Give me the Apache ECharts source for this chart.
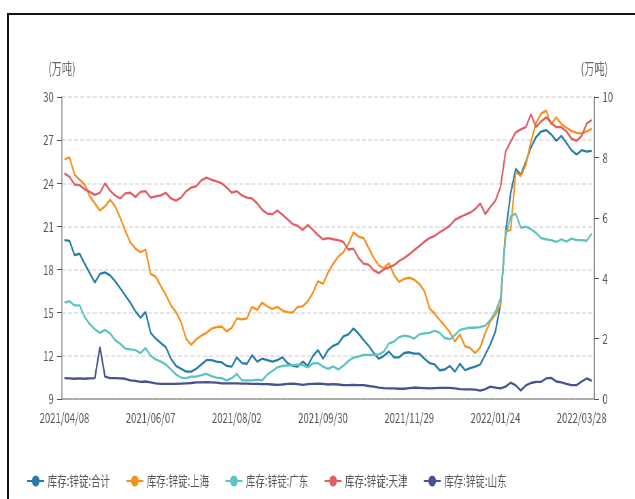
<!DOCTYPE html>
<html>
<head>
<meta charset="utf-8">
<script src="https://cdn.jsdelivr.net/npm/echarts@6/dist/echarts.min.js"></script>
<style>
    html, body { margin: 0; padding: 0; background: #fff; overflow: hidden; }
    #frame { position: absolute; left: 7px; top: 13px; width: 700px; height: 600px; border-top: 2px solid #111; border-left: 2px solid #111; }
    /* the reference is squeezed horizontally, so draw wide and scale down */
    #chart { position: absolute; left: 0; top: 0; width: 934px; height: 499px; transform: scaleX(0.68); transform-origin: 0 0; }
</style>
</head>
<body>
<div id="frame"></div>
<div id="chart"></div>
<script>
const dates = [
    '2021/04/08', '2021/04/12', '2021/04/15', '2021/04/19', '2021/04/22', '2021/04/26', '2021/04/29', '2021/05/06', '2021/05/08', '2021/05/10',
    '2021/05/13', '2021/05/17', '2021/05/20', '2021/05/24', '2021/05/27', '2021/05/31', '2021/06/03', '2021/06/07', '2021/06/10', '2021/06/11',
    '2021/06/15', '2021/06/17', '2021/06/21', '2021/06/24', '2021/06/28', '2021/07/01', '2021/07/05', '2021/07/08', '2021/07/12', '2021/07/15',
    '2021/07/19', '2021/07/22', '2021/07/26', '2021/07/29', '2021/08/02', '2021/08/05', '2021/08/09', '2021/08/12', '2021/08/16', '2021/08/19',
    '2021/08/23', '2021/08/26', '2021/08/30', '2021/09/02', '2021/09/06', '2021/09/09', '2021/09/13', '2021/09/16', '2021/09/18', '2021/09/23',
    '2021/09/27', '2021/09/30', '2021/10/08', '2021/10/09', '2021/10/11', '2021/10/14', '2021/10/18', '2021/10/21', '2021/10/25', '2021/10/28',
    '2021/11/01', '2021/11/04', '2021/11/08', '2021/11/11', '2021/11/15', '2021/11/18', '2021/11/22', '2021/11/25', '2021/11/29', '2021/12/02',
    '2021/12/06', '2021/12/09', '2021/12/13', '2021/12/16', '2021/12/20', '2021/12/23', '2021/12/27', '2021/12/30', '2022/01/04', '2022/01/06',
    '2022/01/10', '2022/01/13', '2022/01/17', '2022/01/20', '2022/01/21', '2022/01/24', '2022/01/27', '2022/02/07', '2022/02/08', '2022/02/10',
    '2022/02/14', '2022/02/17', '2022/02/21', '2022/02/24', '2022/02/28', '2022/03/03', '2022/03/07', '2022/03/10', '2022/03/14', '2022/03/17',
    '2022/03/21', '2022/03/24', '2022/03/28', '2022/03/31', '2022/04/06'
]

// 合计 (left axis, 万吨)
const totalStock = [
    20.05, 20.0, 19.0, 19.1, 18.4, 17.75, 17.1, 17.7, 17.8, 17.6,
    17.2, 16.7, 16.2, 15.7, 15.1, 14.65, 15.05, 13.6, 13.2, 12.9,
    12.6, 11.8, 11.3, 11.1, 10.9, 10.9, 11.1, 11.4, 11.7, 11.7,
    11.6, 11.55, 11.3, 11.25, 11.9, 11.5, 11.45, 12.05, 11.6, 11.8,
    11.7, 11.6, 11.7, 11.9, 11.5, 11.3, 11.25, 11.6, 11.3, 12.0,
    12.4, 11.8, 12.4, 12.7, 12.85, 13.35, 13.5, 13.9, 13.55, 13.1,
    12.7, 12.2, 11.8, 12.0, 12.3, 11.9, 11.9, 12.2, 12.25, 12.15,
    12.15, 11.8, 11.5, 11.4, 11.0, 11.05, 11.3, 10.9, 11.45, 11.0,
    11.15, 11.25, 11.4, 12.1, 12.8, 13.7, 15.6, 20.6, 23.3, 25.0,
    24.6, 25.5, 26.5, 27.2, 27.6, 27.7, 27.4, 26.95, 27.3, 26.8,
    26.3, 26.0, 26.3, 26.2, 26.25
]

// regional stocks (right axis, 万吨)
const shanghaiStock = [
    7.93, 8.0, 7.43, 7.26, 7.10, 6.71, 6.48, 6.24, 6.38, 6.60,
    6.38, 6.0, 5.57, 5.19, 4.98, 4.86, 4.95, 4.14, 4.05, 3.74,
    3.45, 3.10, 2.88, 2.55, 2.0, 1.79, 1.98, 2.10, 2.19, 2.33,
    2.38, 2.40, 2.24, 2.36, 2.67, 2.64, 2.67, 3.05, 2.95, 3.19,
    3.07, 2.98, 3.05, 2.93, 2.88, 2.86, 3.05, 3.07, 3.24, 3.52,
    3.90, 3.81, 4.19, 4.48, 4.71, 4.86, 5.14, 5.52, 5.38, 5.33,
    5.0, 4.67, 4.43, 4.33, 4.50, 4.10, 3.88, 3.98, 4.02, 3.95,
    3.81, 3.57, 3.0, 2.83, 2.62, 2.43, 2.21, 1.90, 2.14, 1.74,
    1.69, 1.52, 1.71, 2.19, 2.57, 2.79, 3.14, 5.57, 5.59, 7.52,
    7.38, 7.76, 8.52, 9.14, 9.45, 9.55, 9.10, 9.33, 9.10, 8.98,
    8.88, 8.81, 8.79, 8.86, 8.95
]

const guangdongStock = [
    3.19, 3.24, 3.10, 3.10, 2.71, 2.48, 2.31, 2.19, 2.29, 2.17,
    1.95, 1.83, 1.67, 1.64, 1.62, 1.52, 1.69, 1.43, 1.31, 1.24,
    1.14, 0.98, 0.81, 0.71, 0.69, 0.74, 0.74, 0.79, 0.83, 0.76,
    0.71, 0.69, 0.62, 0.69, 0.83, 0.62, 0.62, 0.62, 0.64, 0.62,
    0.81, 0.93, 1.05, 1.10, 1.11, 1.12, 1.14, 1.12, 1.05, 1.18,
    1.19, 1.07, 1.0, 1.08, 0.98, 1.10, 1.26, 1.37, 1.40, 1.46,
    1.46, 1.46, 1.48, 1.57, 1.84, 1.90, 2.05, 2.10, 2.07, 2.0,
    2.14, 2.17, 2.19, 2.26, 2.19, 2.02, 1.98, 2.12, 2.29, 2.33,
    2.36, 2.36, 2.38, 2.43, 2.62, 2.89, 3.33, 5.38, 6.05, 6.14,
    5.67, 5.71, 5.62, 5.50, 5.33, 5.29, 5.26, 5.20, 5.29, 5.21,
    5.31, 5.26, 5.26, 5.24, 5.48
]

const tianjinStock = [
    7.47, 7.36, 7.10, 7.08, 6.95, 6.86, 6.76, 6.83, 7.14, 6.90,
    6.74, 6.64, 6.81, 6.83, 6.69, 6.86, 6.88, 6.67, 6.71, 6.74,
    6.83, 6.64, 6.57, 6.67, 6.88, 7.0, 7.05, 7.24, 7.33, 7.26,
    7.21, 7.14, 7.0, 6.83, 6.88, 6.74, 6.67, 6.64, 6.48, 6.26,
    6.14, 6.12, 6.24, 6.10, 5.95, 5.79, 5.74, 5.60, 5.76, 5.60,
    5.43, 5.29, 5.33, 5.29, 5.26, 5.20, 4.95, 4.98, 4.67, 4.48,
    4.45, 4.26, 4.17, 4.29, 4.36, 4.43, 4.57, 4.67, 4.79, 4.93,
    5.07, 5.21, 5.33, 5.40, 5.52, 5.62, 5.74, 5.93, 6.02, 6.10,
    6.17, 6.29, 6.48, 6.12, 6.36, 6.57, 7.02, 8.19, 8.52, 8.83,
    8.93, 9.0, 9.43, 9.0, 9.19, 9.33, 9.14, 9.0, 9.0, 8.86,
    8.62, 8.55, 8.71, 9.12, 9.24
]

const shandongStock = [
    0.69, 0.68, 0.67, 0.68, 0.67, 0.68, 0.69, 1.72, 0.74, 0.69,
    0.69, 0.68, 0.67, 0.62, 0.60, 0.57, 0.58, 0.55, 0.52, 0.50,
    0.50, 0.50, 0.50, 0.51, 0.52, 0.53, 0.55, 0.55, 0.56, 0.55,
    0.54, 0.52, 0.52, 0.52, 0.52, 0.51, 0.51, 0.50, 0.50, 0.49,
    0.49, 0.48, 0.47, 0.48, 0.50, 0.51, 0.49, 0.47, 0.49, 0.50,
    0.51, 0.50, 0.48, 0.49, 0.48, 0.46, 0.46, 0.47, 0.46, 0.46,
    0.43, 0.41, 0.38, 0.36, 0.35, 0.35, 0.34, 0.34, 0.36, 0.38,
    0.37, 0.36, 0.35, 0.36, 0.37, 0.37, 0.37, 0.35, 0.33, 0.32,
    0.32, 0.31, 0.28, 0.33, 0.41, 0.38, 0.35, 0.41, 0.54, 0.45,
    0.28, 0.45, 0.53, 0.57, 0.57, 0.68, 0.70, 0.58, 0.55, 0.50,
    0.46, 0.46, 0.58, 0.68, 0.60
]

const seriesNames = ['库存:锌锭:合计', '库存:锌锭:上海', '库存:锌锭:广东', '库存:锌锭:天津', '库存:锌锭:山东']
const seriesColors = ['#277bab', '#f7901e', '#5cc2c2', '#e05d63', '#4a5190']
const seriesData = [totalStock, shanghaiStock, guangdongStock, tianjinStock, shandongStock]

const chart = echarts.init(document.getElementById('chart'))

const labelColor = '#555'

chart.setOption({
    animation: false,
    textStyle: { fontFamily: 'Noto Sans CJK SC' },
    grid: { left: 91, right: 60, top: 97, bottom: 100 },
    legend: {
        left: 34,
        top: 469,
        itemGap: 23,
        itemWidth: 25,
        itemHeight: 14,
        textStyle: { fontSize: 14, color: labelColor },
        data: seriesNames
    },
    xAxis: {
        type: 'category',
        data: dates,
        boundaryGap: true,
        axisLine: { lineStyle: { color: '#999', width: 1.5 } },
        axisTick: { interval: 16, length: 5, lineStyle: { color: '#555' } },
        axisLabel: { interval: 16, fontSize: 14, color: labelColor, margin: 12 },
        splitLine: { show: false }
    },
    yAxis: [
        {
            type: 'value',
            min: 9,
            max: 30,
            interval: 3,
            name: '(万吨)',
            nameLocation: 'end',
            nameGap: 21,
            nameTextStyle: { fontSize: 15, color: '#666' },
            axisLine: { show: true, lineStyle: { color: '#aaa', width: 2 } },
            axisTick: { show: true, length: 7, lineStyle: { color: '#555' } },
            axisLabel: { fontSize: 14, color: labelColor, margin: 12 },
            splitLine: { lineStyle: { type: 'dashed', color: '#ddd', width: 1.5 } }
        },
        {
            type: 'value',
            position: 'right',
            min: 0,
            max: 10,
            interval: 2,
            name: '(万吨)',
            nameLocation: 'end',
            nameGap: 21,
            nameTextStyle: { fontSize: 15, color: '#666' },
            axisLine: { show: true, lineStyle: { color: '#666', width: 1.5 } },
            axisTick: { show: true, length: 7, lineStyle: { color: '#555' } },
            axisLabel: { fontSize: 14, color: labelColor, margin: 12 },
            splitLine: { show: false }
        }
    ],
    series: seriesNames.map((name, i) => ({
        name,
        type: 'line',
        yAxisIndex: i === 0 ? 0 : 1,
        data: seriesData[i],
        symbol: 'circle',
        symbolSize: 8,
        showSymbol: false,
        lineStyle: { width: 2.3, color: seriesColors[i] },
        itemStyle: { color: seriesColors[i] }
    }))
})
</script>
</body>
</html>
